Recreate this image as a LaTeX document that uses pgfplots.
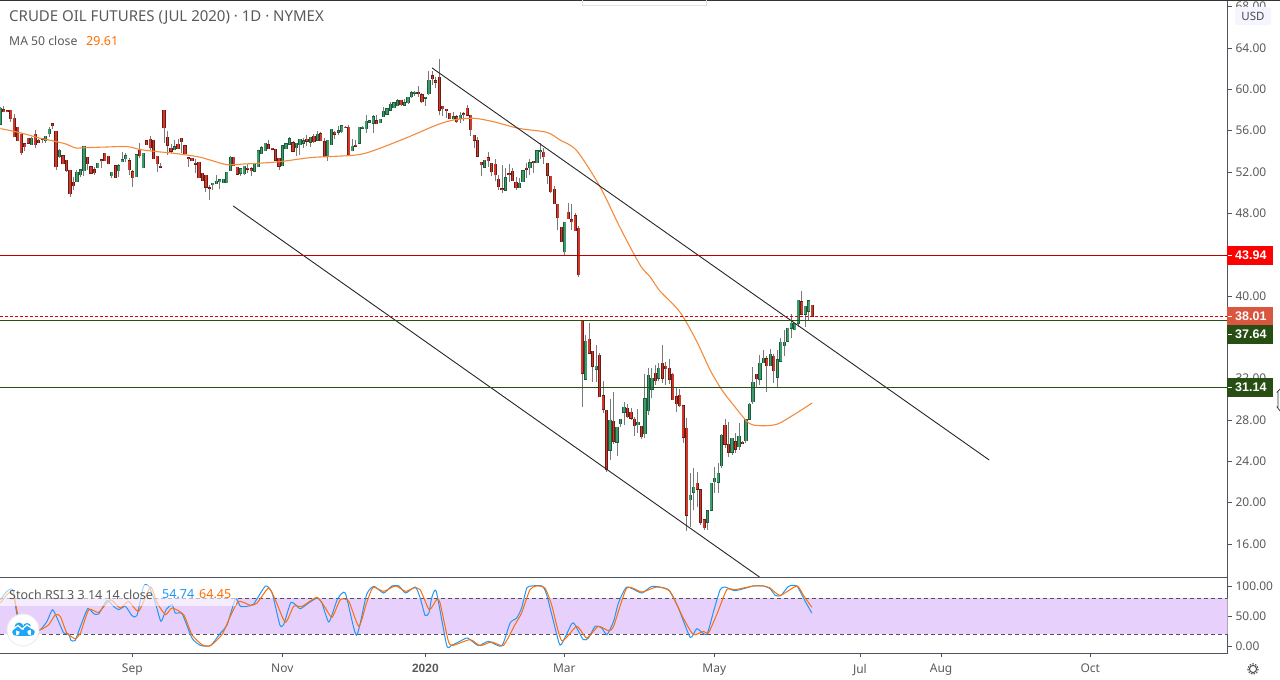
\documentclass[border=0pt]{standalone}
\usepackage{fontspec}
\setmainfont{Noto Sans}
\newfontfamily\lib{Liberation Sans}
\usepackage{pgfplots}
\usepackage{pgfplotstable}
\pgfplotsset{compat=1.18}
\definecolor{wick}{HTML}{7A7A7A}
\definecolor{redB}{HTML}{6E1A12}
\definecolor{redI}{HTML}{CC3B2D}
\definecolor{grnB}{HTML}{1E5B3A}
\definecolor{grnI}{HTML}{3F9A6C}
\definecolor{maor}{HTML}{F58A3C}
\definecolor{txt}{HTML}{5A5A5A}
\definecolor{axl}{HTML}{50535E}
\definecolor{dkgrn}{HTML}{274E13}
\definecolor{band}{HTML}{E8D0FC}
\definecolor{blueS}{HTML}{2196F3}
\definecolor{orS}{HTML}{FF6D00}
\pgfplotstableread{
i o h l c
0 56.62 58.33 56.62 58.17
1 58.00 58.39 57.84 57.84
2 57.90 57.95 57.80 57.84
3 57.97 58.00 56.88 57.17
4 57.20 57.62 55.42 55.42
5 56.33 56.33 55.04 55.04
6 55.65 55.80 53.65 53.87
7 54.75 54.80 54.04 54.46
8 55.26 55.30 54.70 54.81
9 54.65 55.40 54.65 55.26
10 55.65 56.04 54.33 54.65
11 55.07 55.15 54.80 54.84
12 55.26 55.30 54.81 55.17
13 55.04 55.50 54.84 55.46
14 55.71 56.39 55.42 56.13
15 56.65 56.70 56.20 56.49
16 55.94 56.00 52.20 52.52
17 53.49 54.20 53.40 54.10
18 53.55 53.60 52.75 52.81
19 53.13 53.20 52.00 52.13
20 52.17 52.20 49.62 49.91
21 51.00 51.49 50.26 50.68
22 51.07 52.20 51.00 51.97
23 51.75 52.33 51.49 52.20
24 52.13 54.52 51.62 54.49
25 53.42 53.45 52.20 52.81
26 52.49 52.55 51.80 51.88
27 52.20 52.52 51.71 51.94
28 52.42 52.90 52.40 52.84
29 53.17 53.20 52.42 53.10
30 53.81 53.85 53.05 53.10
31 53.52 53.55 52.75 52.81
32 51.65 52.00 51.46 51.97
33 52.58 52.62 51.42 51.46
34 52.13 52.78 51.55 52.58
35 53.00 53.94 52.98 53.17
36 53.30 53.81 52.94 53.55
37 53.07 53.33 51.71 52.23
38 52.00 52.20 50.55 51.46
39 51.55 53.70 51.50 53.65
40 54.10 54.81 53.33 53.58
41 52.42 53.85 52.40 53.81
42 55.00 55.05 54.60 54.65
43 55.17 55.46 54.13 54.36
44 55.07 55.10 53.25 53.30
45 53.52 53.55 52.04 52.81
46 52.55 52.84 52.40 52.46
47 57.97 58.00 54.78 56.29
48 55.36 55.94 53.65 54.59
49 54.30 54.68 53.81 54.04
50 54.17 55.07 54.10 54.42
51 54.68 55.17 54.20 54.26
52 55.26 55.30 53.81 54.94
53 54.52 54.55 53.75 53.78
54 53.36 53.40 52.52 53.30
55 53.33 53.40 53.05 53.10
56 52.84 53.30 51.94 52.75
57 52.94 53.00 51.40 51.46
58 51.88 51.90 51.10 51.17
59 51.68 51.70 50.10 50.52
60 50.46 50.75 49.30 50.39
61 50.78 50.95 50.26 50.91
62 50.87 51.71 50.85 51.10
63 51.07 51.30 50.40 51.23
64 50.97 51.35 50.90 51.29
65 50.97 52.00 50.90 51.97
66 52.13 53.55 52.10 53.42
67 53.42 53.50 52.60 52.61
68 52.45 52.50 51.75 51.81
69 51.87 52.35 51.65 52.29
70 51.84 52.60 51.75 52.55
71 52.35 52.80 51.90 52.26
72 52.29 52.50 51.60 52.13
73 52.07 52.90 52.00 52.84
74 52.52 54.10 52.50 54.03
75 53.77 54.50 53.70 54.36
76 54.07 54.85 54.00 54.77
77 54.61 55.10 54.20 54.26
78 54.29 54.35 54.15 54.20
79 54.20 54.25 53.10 53.16
80 53.32 53.40 52.20 52.58
81 52.61 54.55 52.55 54.52
82 54.26 54.75 54.20 54.71
83 54.71 55.42 54.65 55.20
84 54.84 55.00 53.90 54.03
85 54.36 54.80 53.58 54.77
86 54.65 55.20 53.60 55.16
87 54.77 55.26 54.30 55.00
88 55.16 55.58 54.50 55.00
89 54.87 55.40 54.40 55.36
90 55.45 55.68 54.80 54.94
91 55.10 55.94 55.00 55.65
92 55.68 55.90 55.00 55.03
93 54.90 55.30 53.45 53.48
94 53.48 55.10 53.10 55.06
95 54.65 56.20 54.60 56.13
96 55.84 56.00 55.20 55.65
97 55.84 56.50 55.60 56.00
98 55.90 56.50 55.80 56.45
99 56.32 56.50 56.25 56.29
100 56.32 56.55 53.60 53.65
101 54.07 55.16 54.00 54.48
102 54.58 55.10 54.40 54.48
103 54.77 56.40 54.75 56.32
104 56.26 56.50 56.20 56.32
105 56.19 57.52 55.80 56.90
106 56.84 57.00 56.80 56.94
107 56.71 57.52 55.80 57.32
108 56.94 57.52 56.60 56.68
109 56.78 57.15 56.70 57.10
110 57.36 58.26 57.30 57.87
111 57.58 58.15 57.50 58.10
112 58.00 58.80 57.95 58.55
113 58.23 58.75 58.15 58.68
114 58.42 59.07 58.35 58.87
115 58.94 59.00 58.40 58.52
116 58.45 59.07 58.40 58.68
117 58.71 59.30 58.60 59.23
118 59.29 59.80 59.20 59.65
119 59.61 59.80 59.40 59.71
120 59.71 60.32 59.30 59.58
121 59.45 59.61 58.65 58.81
122 59.13 59.30 58.40 59.23
123 59.58 61.80 59.50 60.87
124 61.29 61.80 60.40 61.03
125 60.81 61.20 60.10 60.71
126 61.16 62.90 57.50 58.00
127 58.36 58.40 57.40 58.13
128 58.07 58.10 57.20 57.94
129 57.68 57.70 57.10 57.16
130 57.16 57.84 57.10 57.36
131 57.36 57.50 56.70 56.87
132 57.16 57.84 56.70 57.48
133 57.61 57.84 56.90 57.55
134 58.16 58.48 57.45 57.48
135 57.48 57.50 55.49 56.10
136 55.55 55.60 54.29 55.07
137 55.07 55.40 53.50 53.55
138 52.94 53.00 51.65 52.71
139 52.45 53.20 52.40 53.13
140 53.36 53.90 52.50 53.10
141 52.84 52.90 51.65 52.03
142 52.74 53.26 51.16 51.74
143 51.29 51.71 50.26 50.58
144 50.36 52.68 50.00 50.29
145 50.23 52.36 50.20 51.42
146 51.81 52.78 51.07 51.74
147 52.07 52.36 51.10 51.16
148 51.00 51.55 50.26 50.48
149 50.48 51.39 50.45 50.90
150 51.07 52.15 51.00 52.10
151 52.36 52.84 51.39 52.29
152 52.42 53.30 51.71 52.87
153 53.03 53.10 51.87 52.90
154 52.90 54.10 52.85 54.03
155 54.00 54.78 53.30 54.07
156 53.90 54.29 52.78 53.48
157 52.84 52.90 50.84 51.71
158 51.58 51.60 49.94 50.10
159 50.32 50.65 48.90 48.94
160 48.87 48.90 46.39 47.58
161 46.65 46.70 45.20 45.26
162 44.29 47.20 43.97 47.13
163 48.10 48.97 47.42 47.48
164 47.36 48.90 46.39 47.19
165 47.74 48.00 46.30 46.32
166 46.55 46.77 41.87 42.07
167 37.62 37.70 29.30 32.52
168 31.94 36.23 31.90 35.62
169 35.81 37.36 34.40 34.46
170 34.65 34.70 31.71 33.20
171 32.91 35.26 31.71 33.20
172 34.26 34.52 30.20 30.26
173 30.36 31.78 28.65 29.04
174 28.94 29.00 23.00 23.26
175 25.07 30.04 24.13 27.97
176 27.88 30.68 25.68 25.94
177 25.84 27.35 24.55 27.30
178 27.65 28.10 27.36 28.07
179 28.75 29.78 27.52 29.23
180 29.13 29.55 28.17 28.33
181 28.75 29.13 28.00 28.17
182 28.07 28.33 26.46 27.46
183 27.55 29.07 26.71 27.78
184 27.39 27.40 26.17 26.39
185 26.68 32.46 26.30 30.04
186 28.91 33.00 28.49 32.33
187 30.97 33.00 30.10 32.04
188 32.52 33.33 31.39 31.81
189 32.04 33.49 31.81 33.00
190 33.49 35.26 31.55 32.04
191 33.20 33.65 31.39 32.97
192 33.00 33.87 31.49 31.94
193 32.42 32.50 29.94 29.97
194 30.26 31.07 28.81 29.58
195 30.39 31.00 29.23 29.39
196 29.39 29.45 25.81 26.33
197 27.20 28.17 17.30 18.78
198 20.30 22.84 17.68 20.72
199 21.00 23.33 19.30 21.49
200 21.87 23.00 19.60 21.30
201 21.23 21.30 17.84 18.10
202 18.32 18.40 17.36 17.58
203 18.10 19.25 17.36 19.20
204 19.29 21.90 19.20 21.87
205 22.03 23.48 20.90 22.36
206 21.97 23.87 20.90 22.84
207 23.58 26.60 23.32 26.52
208 27.48 28.06 25.26 25.65
209 25.65 27.84 24.45 24.87
210 24.87 26.30 24.60 26.23
211 25.90 26.71 24.84 25.16
212 25.42 27.68 25.10 26.42
213 25.84 26.00 25.70 25.71
214 26.00 28.05 25.74 28.00
215 28.07 29.60 28.00 29.52
216 29.77 33.10 29.55 31.65
217 32.42 32.45 31.23 32.00
218 31.94 34.29 31.39 33.48
219 33.55 34.77 33.50 33.97
220 33.94 34.23 30.74 33.26
221 33.26 34.84 33.20 34.36
222 34.16 34.39 31.55 32.78
223 32.13 34.77 31.16 33.81
224 33.68 35.90 33.60 35.52
225 35.19 36.71 34.19 35.52
226 35.61 36.90 35.55 36.87
227 36.87 38.30 35.90 37.36
228 36.74 37.40 36.70 37.36
229 37.36 39.65 37.03 39.58
230 39.45 40.49 38.20 38.23
231 38.23 39.05 37.03 39.00
232 38.52 39.60 37.68 39.55
233 39.10 39.15 37.94 38.01
}\ohlc
\pgfplotstableread{
i p
0 56.2
3.8 55.94
7.7 55.62
11.5 55.26
15.3 55.0
19.1 54.68
21.5 54.33
24.9 54.36
30.6 54.42
36.4 54.46
40.2 54.17
45 53.97
49.8 53.81
56.5 53.49
60.2 53.16
65 52.71
69.8 52.77
79.3 52.97
88.9 53.39
93.7 53.48
102.3 53.65
107.1 54.07
115.7 55.19
120.5 55.87
125.2 56.55
130 57.03
135.8 57.2
141.5 56.87
148.7 56.23
156.8 55.84
160.6 55.1
165.4 54.07
172.1 50.58
177.9 46.59
183.6 43.0
186.5 41.85
189.3 40.49
195.1 38.42
199.9 35.58
203.7 32.84
207.1 30.9
210.4 29.45
214.7 27.74
218 27.45
222.8 27.58
227.6 28.48
233 29.65
}\ma
\pgfplotstableread{
i v
0 77.2
1.9 91.1
3.6 93.9
4.8 52.2
6.7 32.8
9.6 24.4
11.5 27.2
13.4 41.1
15 60.6
16.7 41.1
18.2 21.7
19.6 20
20.3 9.4
21.5 9.4
23 32.8
25.1 62.2
26.8 53.9
28.2 53.3
30.6 75.6
32.5 66.1
34 60.6
35.9 66.1
37.8 50.6
39.2 50.6
41.1 99.4
42.6 100
44.5 71.7
46.1 41.1
47.6 60.6
49.3 68.9
50.2 55
52.2 53.3
55 13.3
57.4 1.1
60.3 0.6
63.2 21.7
65.1 35.6
67.5 78.9
68.9 66.1
70.8 66.1
72.7 70
76.1 100
78 88.3
80.2 35.6
81.3 35.6
83.3 71.7
84.7 68.9
86.1 62.2
88.5 71.7
90.9 80
92.3 71.7
94.3 40
96.7 77.2
99 88.3
102.2 17.8
105.1 85.6
107.2 99.4
110 88.3
112.4 100
114.4 100
116.3 88.3
119.1 98.3
120.5 80
121.9 51.1
123 55
123.8 80
125.1 91.1
128.1 1.1
129.5 1.1
131.9 7.8
134.1 13.3
137.2 0.6
140.1 7.8
143.9 0
146.3 38.3
148.2 46.7
149.6 63.3
151.1 96.7
152.5 100
155.4 100
156.8 85.6
160.2 7.8
161.1 3.3
164 37.2
164.9 35.6
167.3 10.6
168.8 13.3
170.7 32.8
172.6 30
174.1 18.9
176 41.1
177.4 71.7
179.8 98.3
184.1 88.3
187 99.4
191.7 93.9
194.6 63.3
198 14.4
199.9 28.9
202.7 18.9
204.7 57.8
206.6 93.9
208 98.3
210.9 92.2
216.1 100
219 100
220.9 95.6
222.4 84.4
224 83.9
226.2 99.4
228.6 100
231 74.4
232.9 54.74
}\stochk
\pgfplotstableread{
i v
0 71.7
2.4 88.3
3.8 85.6
5.3 46.7
8.1 30
11.5 27.2
13.9 35.6
15.8 52.2
17.2 49.4
19.1 21.7
21.5 12.2
23 21.7
25.4 60.6
28.2 56.1
31.6 77.2
34.4 63.3
36.8 74.4
39.7 57.8
43.1 98.3
45 71.7
47.4 52.2
49.3 63.3
52.6 52.2
55 18.9
57.9 2.2
60.3 0.6
63.6 18.9
66 49.4
68.4 74.4
71.8 67.8
73.7 71.7
77 96.7
78.9 77.2
81.8 39.4
84.2 66.1
86.6 66.1
90.9 81.1
93.3 63.3
95.2 47.8
97.6 77.2
100 74.4
102.9 32.8
105.1 71.7
107 97.8
110 91.1
113.4 100
116.3 91.1
118.7 96.7
120.5 93.9
123.1 60.6
125.2 77.2
126.2 71.7
128.6 7.8
130 1.1
134.8 10.6
137.7 0.6
141 6.7
144.4 1.1
147.7 35.6
149.6 55
152 93.9
153.9 100
156.3 96.7
158.2 68.9
161.1 8.9
165.4 32.8
168.3 13.3
171.6 32.8
174.5 25.6
176 32.8
179.8 96.7
184.1 90
188.4 98.3
192.2 91.1
196 46.7
198.9 18.9
201.8 24.4
203.2 21.7
205.6 52.2
208.5 93.9
210.9 93.9
216.1 100
219 100
220.9 96.7
223.8 84.4
228.6 100
230.5 84.4
232.9 64.45
}\stochd
\pgfplotsset{
  filter discard warning=false,
  base/.style={
    scale only axis, width=1227.5pt, xmin=-0.095, xmax=352.2,
    axis y line*=right, axis x line*=bottom,
    axis line style={axl,line width=0.9pt},
    tick style={axl,line width=0.8pt},
    major tick length=4pt, tick align=outside,
    tick label style={font=\fontsize{12}{14}\selectfont, text=txt},
    /pgf/number format/assume math mode=true,
    /pgf/number format/fixed, /pgf/number format/fixed zerofill, /pgf/number format/precision=2,
    yticklabel style={anchor=west, xshift=0.5pt},
    xtick pos=bottom, ytick pos=right, yticklabel pos=right,
    axis on top=false,
  },
  wickp/.style={draw=none, mark=none, error bars/.cd, y dir=plus, y explicit, error mark=none,
    error bar style={draw=wick, line width=1pt, solid}},
  bodyp/.style={draw=none, mark=none, error bars/.cd, y dir=plus, y explicit, error mark=none,
    error bar style={draw=#1, line width=3.2pt, solid}},
  innerp/.style={draw=none, mark=none, error bars/.cd, y dir=plus, y explicit, error mark=none,
    error bar style={draw=#1, line width=1.6pt, solid}},
}
\begin{document}
\begin{tikzpicture}[x=1pt,y=1pt]
\path[use as bounding box] (0,0) rectangle (1280,680);
\begin{axis}[base, at={(0pt,103pt)}, anchor=south west, height=576pt,
  ymin=12.806, ymax=68.55, xtick=\empty,
  ytick={16,20,24,28,32,36,40,44,48,52,56,60,64,68}]
\addplot[wickp] table[x=i, y=l, y error plus expr=\thisrow{h}-\thisrow{l}, y error minus expr=0] {\ohlc};
\addplot[restrict expr to domain={\thisrow{o}-\thisrow{c}}{0:1000}, bodyp=redB] table[x=i, y expr=\thisrow{c}-0.06, y error plus expr=\thisrow{o}-\thisrow{c}+0.12, y error minus expr=0] {\ohlc};
\addplot[restrict expr to domain={\thisrow{o}-\thisrow{c}}{0:1000}, innerp=redI] table[x=i, y=c, y error plus expr=\thisrow{o}-\thisrow{c}, y error minus expr=0] {\ohlc};
\addplot[restrict expr to domain={\thisrow{c}-\thisrow{o}}{0:1000}, bodyp=grnB] table[x=i, y expr=\thisrow{o}-0.06, y error plus expr=\thisrow{c}-\thisrow{o}+0.12, y error minus expr=0] {\ohlc};
\addplot[restrict expr to domain={\thisrow{c}-\thisrow{o}}{0:1000}, innerp=grnI] table[x=i, y=o, y error plus expr=\thisrow{c}-\thisrow{o}, y error minus expr=0] {\ohlc};
\addplot[maor, line width=1.1pt, mark=none, smooth, tension=0.5] table[x=i, y=p] {\ma};
\addplot[black!85, line width=0.9pt, mark=none] coordinates {(123.9,62.07) (283.8,24.13)};
\addplot[black!85, line width=0.9pt, mark=none] coordinates {(66.8,48.72) (218.3,12.7)};
\addplot[red!75!black, line width=0.8pt, mark=none] coordinates {(-0.095,43.94) (352.2,43.94)};
\addplot[red!85!black, line width=0.8pt, densely dashed, mark=none] coordinates {(-0.095,38.01) (352.2,38.01)};
\addplot[dkgrn, line width=0.9pt, mark=none] coordinates {(-0.095,37.64) (352.2,37.64)};
\addplot[dkgrn, line width=0.9pt, mark=none] coordinates {(-0.095,31.14) (352.2,31.14)};
\end{axis}
\begin{axis}[base, at={(0pt,27pt)}, anchor=south west, height=76pt,
  ymin=-11.67, ymax=115, ytick={0,50,100},
  xtick={37.88,80.93,121.98,161.87,204.92,246.7,270,312.8},
  xticklabels={Sep,Nov,{\lib\bfseries 2020},Mar,May,Jul,Aug,Oct},
  xticklabel style={yshift=-3.5pt}]
\addplot[fill=band, draw=none, mark=none] coordinates {(-0.095,20) (352.2,20) (352.2,80) (-0.095,80)} -- cycle;
\addplot[axl, line width=0.8pt, dash pattern=on 4pt off 3pt, mark=none] coordinates {(-0.095,80) (352.2,80)};
\addplot[axl, line width=0.8pt, dash pattern=on 4pt off 3pt, mark=none] coordinates {(-0.095,20) (352.2,20)};
\addplot[blueS, line width=1pt, mark=none, smooth, tension=0.35] table[x=i, y=v] {\stochk};
\addplot[orS, line width=1pt, mark=none, smooth, tension=0.35] table[x=i, y=v] {\stochd};
\end{axis}
% overlays, in pixel coordinates of the reference
\begin{scope}[x=1pt,y=-1pt,yshift=680pt]
\draw[black!80, line width=1.2pt] (0,0.6) -- (1280,0.6);
\draw[black!12, line width=0.6pt] (582,0) -- (582,5) -- (706,5) -- (706,0);
\node[anchor=west, inner sep=0, text=txt, font=\fontsize{15}{17}\selectfont] at (9,17) {CRUDE OIL FUTURES (JUL 2020) · 1D · NYMEX};
\node[anchor=west, inner sep=0, text=txt, font=\fontsize{12.2}{15}\selectfont] at (9,41) {MA 50 close};
\node[anchor=west, inner sep=0, text=orS, font=\fontsize{12.5}{15}\selectfont] at (86,41) {29.61};
\fill[white, opacity=0.6] (0,585) rectangle (236,606);
\node[anchor=west, inner sep=0, text=txt, font=\fontsize{12.5}{15}\selectfont] at (9,594.5) {Stoch RSI 3 3 14 14 close};
\node[anchor=west, inner sep=0, text=blueS, font=\fontsize{12.5}{15}\selectfont] at (162,594.5) {54.74};
\node[anchor=west, inner sep=0, text=orS, font=\fontsize{12.5}{15}\selectfont] at (199,594.5) {64.45};
% price flags
\foreach \yy/\hh/\cc/\tt in {246/19/FF0000/43.94, 307/18/D9563F/38.01, 325/19/274E13/37.64, 378/19/274E13/31.14}{
  \definecolor{flag}{HTML}{\cc}
  \fill[flag] (1226.5,\yy) rectangle (1273,\yy+\hh);
  \draw[white, line width=0.8pt] (1228,\yy+\hh/2) -- (1232,\yy+\hh/2);
  \node[anchor=west, inner sep=0, text=white, font=\lib\bfseries\fontsize{12.5}{14}\selectfont] at (1235,\yy+\hh/2) {\tt};
}
% USD badge
\fill[blue!4!white, rounded corners=2pt] (1235,7) rectangle (1271,25);
\node[text=black!70, inner sep=0, font=\fontsize{11.5}{13}\selectfont] at (1253,16) {USD};
% logo
\fill[white] (23,630) circle (16);
\draw[black!8, line width=0.8pt] (23,630) circle (16);
\fill[blueS!85!cyan] (16,632) circle (3.8) (31,632) circle (3.8) (16,630) rectangle (31,635.8);
\fill[blueS!85!cyan] (19,627) circle (4.5) (27,627) circle (4);
\draw[white, line width=1.3pt] (12,630) -- (18,625.5) -- (22,629) -- (27,625) -- (35,630);
% gear
\draw[black!70, line width=1pt] (1253,669) circle (3.6);
\draw[black!70, line width=1.1pt, dash pattern=on 1.5pt off 1.4pt] (1253,669) circle (5.2);
% cursor
\draw[black!80, fill=white, line width=0.7pt] (1280,389) -- (1277,392) -- (1278,392) -- (1278,407) -- (1277,407) -- (1280,411);
\end{scope}
\end{tikzpicture}
\end{document}
